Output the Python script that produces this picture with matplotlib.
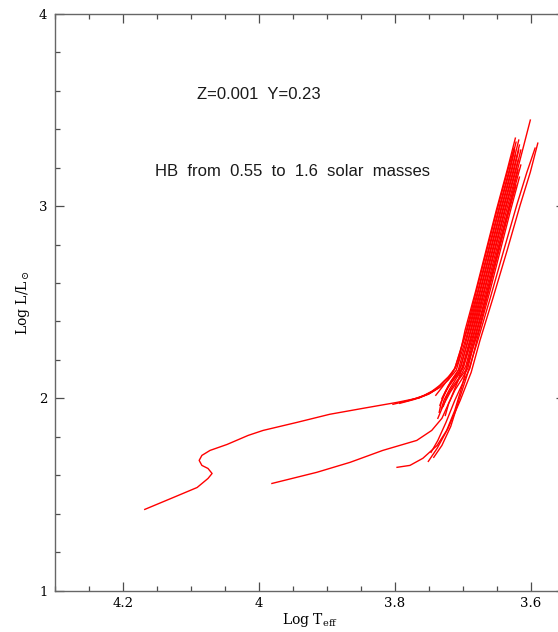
import matplotlib
matplotlib.use("Agg")
import matplotlib.pyplot as plt
from matplotlib.ticker import MultipleLocator

# HB / AGB evolutionary tracks (log Teff, log L/Lsun)
logT_01 = [4.168, 4.126, 4.091, 4.075, 4.069, 4.075, 4.084, 4.088, 4.084, 4.072, 4.047, 4.016, 3.994, 3.944, 3.896,
           3.847, 3.797, 3.768, 3.749, 3.738, 3.728, 3.716, 3.707, 3.697, 3.681, 3.666, 3.651, 3.635, 3.623]
logL_01 = [1.422, 1.484, 1.536, 1.583, 1.609, 1.635, 1.651, 1.677, 1.703, 1.729, 1.760, 1.807, 1.833, 1.875, 1.917,
           1.948, 1.979, 2.000, 2.026, 2.052, 2.089, 2.130, 2.188, 2.354, 2.563, 2.771, 2.979, 3.188, 3.354]

logT_02 = [3.981, 3.915, 3.866, 3.818, 3.768, 3.746, 3.731, 3.719, 3.707, 3.699, 3.686, 3.671, 3.656, 3.641, 3.625, 3.618]
logL_02 = [1.557, 1.615, 1.667, 1.729, 1.781, 1.833, 1.896, 1.990, 2.094, 2.188, 2.354, 2.563, 2.771, 2.979, 3.188, 3.292]

logT_03 = [3.797, 3.778, 3.759, 3.738, 3.724, 3.712, 3.701, 3.691, 3.672, 3.653, 3.632, 3.619]
logL_03 = [1.641, 1.651, 1.688, 1.755, 1.833, 1.938, 2.068, 2.214, 2.458, 2.719, 3.005, 3.188]

logT_04 = [3.751, 3.738, 3.722, 3.704, 3.688, 3.675, 3.656, 3.635, 3.616, 3.601, 3.590]
logL_04 = [1.672, 1.740, 1.844, 1.990, 2.135, 2.302, 2.521, 2.771, 3.005, 3.177, 3.328]

logT_05 = [3.743, 3.731, 3.718, 3.706, 3.694, 3.679, 3.660, 3.640, 3.621, 3.606, 3.594]
logL_05 = [1.693, 1.755, 1.854, 1.990, 2.120, 2.292, 2.521, 2.771, 3.005, 3.177, 3.302]

logT_06 = [3.785, 3.763, 3.746, 3.734, 3.722, 3.712, 3.694, 3.678, 3.663, 3.648, 3.632, 3.622]
logL_06 = [1.984, 2.005, 2.036, 2.068, 2.109, 2.156, 2.354, 2.563, 2.771, 2.979, 3.188, 3.333]

logT_07 = [3.766, 3.749, 3.734, 3.722, 3.710, 3.692, 3.677, 3.662, 3.647, 3.631, 3.624]
logL_07 = [2.000, 2.026, 2.057, 2.094, 2.146, 2.354, 2.563, 2.771, 2.979, 3.188, 3.292]

logT_08 = [3.735, 3.732, 3.726, 3.718, 3.707, 3.691, 3.675, 3.660, 3.645, 3.629, 3.618]
logL_08 = [1.927, 1.979, 2.031, 2.089, 2.146, 2.354, 2.563, 2.771, 2.979, 3.188, 3.344]

logT_09 = [3.734, 3.729, 3.722, 3.712, 3.703, 3.689, 3.674, 3.659, 3.644, 3.628, 3.623]
logL_09 = [1.964, 2.010, 2.063, 2.115, 2.167, 2.354, 2.563, 2.771, 2.979, 3.188, 3.266]

logT_10 = [3.731, 3.725, 3.716, 3.706, 3.688, 3.672, 3.657, 3.642, 3.626, 3.617]
logL_10 = [2.000, 2.042, 2.089, 2.135, 2.354, 2.563, 2.771, 2.979, 3.188, 3.318]

logT_11 = [3.732, 3.728, 3.719, 3.709, 3.700, 3.685, 3.669, 3.654, 3.639, 3.623, 3.619]
logL_11 = [1.943, 1.990, 2.052, 2.109, 2.156, 2.354, 2.563, 2.771, 2.979, 3.188, 3.240]

logT_12 = [3.728, 3.721, 3.710, 3.699, 3.683, 3.668, 3.653, 3.638, 3.622, 3.615]
logL_12 = [2.016, 2.063, 2.115, 2.167, 2.354, 2.563, 2.771, 2.979, 3.188, 3.292]

logT_13 = [3.729, 3.724, 3.715, 3.704, 3.696, 3.682, 3.666, 3.651, 3.636, 3.620, 3.601]
logL_13 = [1.958, 2.010, 2.063, 2.115, 2.167, 2.354, 2.563, 2.771, 2.979, 3.188, 3.448]

logT_14 = [3.726, 3.721, 3.712, 3.701, 3.693, 3.679, 3.663, 3.648, 3.633, 3.615]
logL_14 = [1.911, 1.974, 2.042, 2.104, 2.156, 2.354, 2.563, 2.771, 2.979, 3.214]

logT_15 = [3.747, 3.737, 3.725, 3.712, 3.700, 3.690, 3.676, 3.660, 3.645, 3.630, 3.617]
logL_15 = [1.719, 1.781, 1.875, 1.990, 2.083, 2.156, 2.354, 2.563, 2.771, 2.979, 3.151]

logT_16 = [3.803, 3.778, 3.756, 3.740]
logL_16 = [1.969, 1.990, 2.016, 2.047]

logT_17 = [3.793, 3.771, 3.751, 3.737]
logL_17 = [1.974, 1.995, 2.021, 2.052]

logT_18 = [3.740, 3.732, 3.722, 3.712, 3.695, 3.680, 3.665, 3.650, 3.634, 3.625]
logL_18 = [2.016, 2.052, 2.099, 2.156, 2.354, 2.563, 2.771, 2.979, 3.188, 3.302]

logT_19 = [3.737, 3.729, 3.719, 3.707, 3.696, 3.677, 3.662, 3.647, 3.632, 3.622]
logL_19 = [1.896, 1.964, 2.031, 2.094, 2.146, 2.354, 2.563, 2.771, 2.979, 3.109]

tracks = [(logT_01, logL_01), (logT_02, logL_02), (logT_03, logL_03), (logT_04, logL_04),
          (logT_05, logL_05), (logT_06, logL_06), (logT_07, logL_07), (logT_08, logL_08),
          (logT_09, logL_09), (logT_10, logL_10), (logT_11, logL_11), (logT_12, logL_12),
          (logT_13, logL_13), (logT_14, logL_14), (logT_15, logL_15), (logT_16, logL_16),
          (logT_17, logL_17), (logT_18, logL_18), (logT_19, logL_19)]

plt.rcParams['mathtext.fontset'] = 'dejavuserif'

fig = plt.figure(figsize=(5.58, 6.32), dpi=100)
ax = fig.add_axes([55/558, 41.5/632, 510/558, 576.5/632])

for t, l in tracks:
    ax.plot(t, l, color='#ff0000', lw=1.0)

ax.set_xlim(4.3, 3.55)
ax.set_ylim(1, 4)
ax.xaxis.set_minor_locator(MultipleLocator(0.05))
ax.yaxis.set_minor_locator(MultipleLocator(0.2))
ax.set_xticks([4.2, 4.0, 3.8, 3.6])
ax.set_xticklabels(['4.2', '4', '3.8', '3.6'])
ax.set_yticks([1, 2, 3, 4])
ax.set_yticklabels(['1', '2', '3', '4'])

ax.tick_params(which='both', direction='in', top=True, right=True, color='0.3',
               labelsize=9.5, labelfontfamily='DejaVu Serif')
ax.tick_params(which='major', length=6.5, width=0.9)
ax.tick_params(which='minor', length=3.3, width=0.9)
ax.tick_params(axis='x', pad=4.5)
ax.tick_params(axis='y', pad=5.5)
for s in ax.spines.values():
    s.set_color('0.4')
    s.set_linewidth(1.0)

ax.set_xlabel(r'Log T$_{\rm eff}$', fontsize=10, family='DejaVu Serif', labelpad=1)
ax.set_ylabel(r'Log L/L$_\odot$', fontsize=10, family='DejaVu Serif', labelpad=5)

ax.text(4.0, 3.58, 'Z=0.001  Y=0.23', fontsize=12, family='Liberation Sans',
        ha='center', va='center', color='0.1')
ax.text(3.95, 3.18, 'HB  from  0.55  to  1.6  solar  masses', fontsize=12, family='Liberation Sans',
        ha='center', va='center', color='0.1')

fig.savefig('out.png', dpi=100)
